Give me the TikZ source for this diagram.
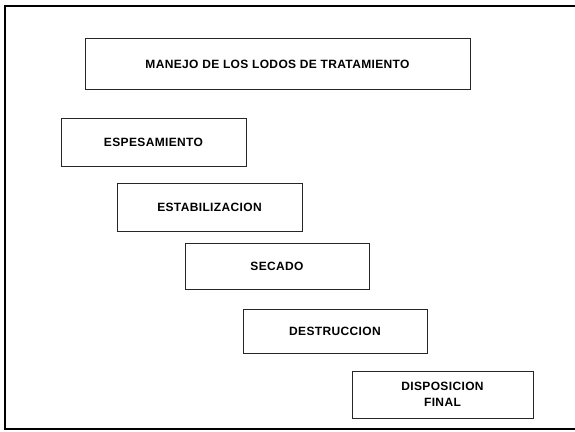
\documentclass[tikz,border=0pt]{standalone}
\usepackage{fontspec}
\setmainfont{Liberation Sans}
\newfontfamily\lbfont[LetterSpace=3]{Liberation Sans Bold}
\usepackage{tikz}
\usetikzlibrary{positioning}

\begin{document}
\begin{tikzpicture}[
  x=1pt, y=-1pt, font=\lbfont\fontsize{12}{16}\selectfont,
  lbox/.style={draw=black!85, line width=0.8pt, align=center, inner sep=0pt},
  lstep/.style={lbox, minimum width=184pt, minimum height=48pt},
  lframe/.style={draw=black, line width=1.3pt},
]
  \useasboundingbox (0,0) rectangle (575,431);
  % frame
  \draw[lframe] (580,6) -- (5,6) -- (5,429) -- (580,429);
  % 1. title
  \node[lbox, minimum width=385pt, minimum height=51pt] (manejo) at (277.5,64)
    {MANEJO DE LOS LODOS DE TRATAMIENTO};
  % 2. steps
  \node[lstep, minimum width=185pt] (espes) at (153.5,142.5) {ESPESAMIENTO};
  \node[lstep, minimum width=185pt] (estab) at (209.5,207.5) {ESTABILIZACION};
  \node[lstep, minimum height=46pt] (secado) at (277,266) {SECADO};
  \node[lstep, minimum height=44pt] (destr) at (335,331) {DESTRUCCION};
  \node[lstep, minimum width=181pt, minimum height=47pt] (dispo) at (442.5,394.5)
    {DISPOSICION\\ FINAL};
\end{tikzpicture}
\end{document}
